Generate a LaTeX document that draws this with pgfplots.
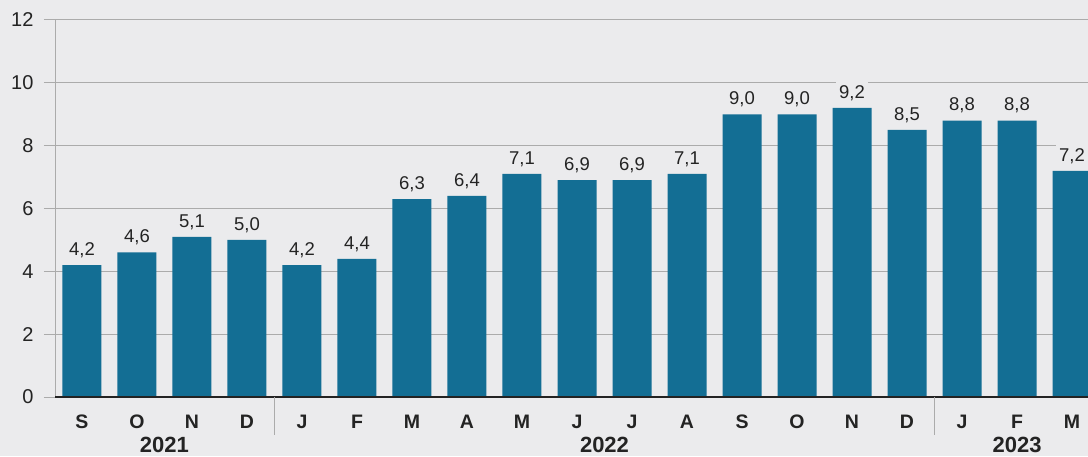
\documentclass[border=0pt]{standalone}
\usepackage{pgfplots}
\pgfplotsset{compat=1.18}
\usepackage{fontspec}
\setmainfont{Liberation Sans}
\definecolor{bg}{HTML}{EBEBED}
\definecolor{barc}{HTML}{136E94}
\definecolor{gridc}{HTML}{ABABAB}
\definecolor{txt}{HTML}{232323}
\begin{document}
\begin{tikzpicture}
\path[use as bounding box] (0,0) rectangle (1088pt,456pt);
\clip (0,0) rectangle (1088pt,456pt);
\fill[bg] (0,0) rectangle (1088pt,456pt);
\begin{axis}[
  at={(55pt,59pt)}, anchor=south west,
  width=1033pt, height=377pt, scale only axis,
  xmin=-0.49, xmax=18.29, ymin=0, ymax=12,
  clip=false,
  axis x line=bottom, axis y line=left,
  x axis line style={-, draw=none},
  y axis line style={-, draw=gridc, line width=1pt},
  ytick={0,2,...,12},
  ymajorgrids, grid style={gridc, line width=1pt},
  tick align=outside, major tick length=11pt,
  ytick style={gridc, line width=1pt},
  xtick style={draw=none},
  yticklabel style={font=\fontsize{20}{24}\selectfont, text=txt, xshift=-7pt},
  /pgf/number format/assume math mode=true,
  xtick={0,...,18},
  xticklabels={S,O,N,D,J,F,M,A,M,J,J,A,S,O,N,D,J,F,M},
  xticklabel style={font=\fontsize{19.5}{23}\selectfont\bfseries, text=txt, anchor=base, yshift=-20pt},
  ybar, bar width=39pt,
  nodes near coords={\pgfmathprintnumber[fixed,fixed zerofill,precision=1,use comma]{\pgfplotspointmeta}},
  nodes near coords style={anchor=south, yshift=4pt, fill=bg, inner sep=3pt, text=txt, font=\fontsize{18.5}{22}\selectfont},
]
\addplot[fill=barc, draw=none] coordinates {
(0,4.2) (1,4.6) (2,5.1) (3,5.0) (4,4.2) (5,4.4) (6,6.3) (7,6.4) (8,7.1) (9,6.9)
(10,6.9) (11,7.1) (12,9.0) (13,9.0) (14,9.2) (15,8.5) (16,8.8) (17,8.8) (18,7.2)};
\draw[txt, line width=1.5pt] (axis cs:-0.49,0) -- (axis cs:18.6,0);
\draw[gridc, line width=1pt] (axis cs:3.5,0) -- ([yshift=-38pt]axis cs:3.5,0);
\draw[gridc, line width=1pt] (axis cs:15.5,0) -- ([yshift=-38pt]axis cs:15.5,0);
\node[anchor=base, inner sep=0pt, text=txt, font=\fontsize{22}{26}\selectfont\bfseries, yshift=-55pt] at (axis cs:1.5,0) {2021};
\node[anchor=base, inner sep=0pt, text=txt, font=\fontsize{22}{26}\selectfont\bfseries, yshift=-55pt] at (axis cs:9.5,0) {2022};
\node[anchor=base, inner sep=0pt, text=txt, font=\fontsize{22}{26}\selectfont\bfseries, yshift=-55pt] at (axis cs:17,0) {2023};
\end{axis}
\end{tikzpicture}
\end{document}
